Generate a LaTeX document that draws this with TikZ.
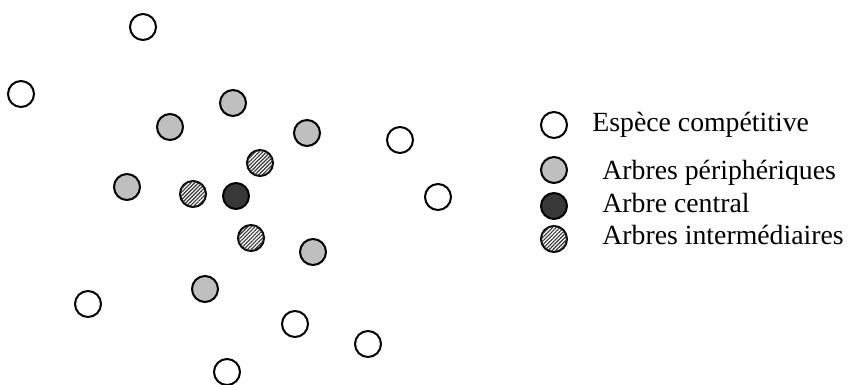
\documentclass[tikz,border=0pt]{standalone}
\usepackage{fontspec}
\setmainfont{Liberation Serif}
\usetikzlibrary{patterns, patterns.meta, positioning}

\begin{document}
\begin{tikzpicture}[x=0.2mm, y=-0.2mm,
  tree/.style = {draw, circle, minimum size=5.2mm, inner sep=0pt, line width=0.4mm},
  comp/.style = {tree, fill=white},
  peri/.style = {tree, fill=black!25},
  cent/.style = {tree, fill=black!78},
  inter/.style = {tree, fill=white, postaction={pattern={Lines[angle=45, distance=1.5pt, line width=0.65pt]}, pattern color=black!80}},
  leg/.style = {anchor=base west, inner sep=0pt, font=\fontsize{15.8}{19}\selectfont}
]
\useasboundingbox (0,0) rectangle (850,385);

%--- Especes competitives ---
\node[comp] (c1) at (143, 27) {};
\node[comp] (c2) at ( 21, 94) {};
\node[comp] (c3) at (400,140) {};
\node[comp] (c4) at (438,197) {};
\node[comp] (c5) at ( 88,304) {};
\node[comp] (c6) at (295,324) {};
\node[comp] (c7) at (368,344) {};
\node[comp] (c8) at (227,372) {};

%--- Arbres peripheriques ---
\node[peri] (p1) at (233,103) {};
\node[peri] (p2) at (170,127) {};
\node[peri] (p3) at (307,133) {};
\node[peri] (p4) at (127,187) {};
\node[peri] (p5) at (313,252) {};
\node[peri] (p6) at (205,289) {};

%--- Arbres intermediaires ---
\node[inter] (i1) at (260,163) {};
\node[inter] (i2) at (193,194) {};
\node[inter] (i3) at (251,238) {};

%--- Arbre central ---
\node[cent] (ac) at (236,196) {};

%--- Legende ---
\node[comp]  (lc) at (554,125) {};
\node[peri]  (lp) at (554,170) {};
\node[cent]  (la) at (554,206) {};
\node[inter] (li) at (554,239) {};

\node[leg] (tc) at (592,132) {Espèce compétitive};
\node[leg] (tp) at (602,180) {Arbres périphériques};
\node[leg] (ta) at (602,213) {Arbre central};
\node[leg] (ti) at (602,245) {Arbres intermédiaires};

\end{tikzpicture}
\end{document}
